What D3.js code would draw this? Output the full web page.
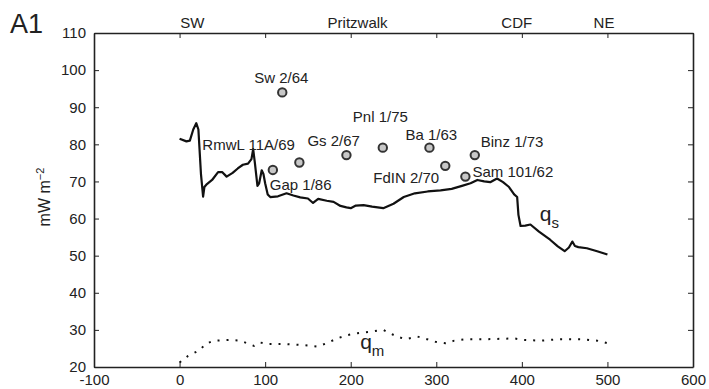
<!DOCTYPE html>
<html>
<head>
<meta charset="utf-8">
<script src="https://cdn.jsdelivr.net/npm/d3@7"></script>
<style>
  body { margin: 0; background: #fff; }
  svg text { font-family: "Liberation Sans", Arial, sans-serif; fill: #222; }
</style>
</head>
<body>
<svg width="709" height="389"></svg>
<script>
// surface heat flow q_s along the profile (distance km, mW m-2)
const qsDist = [0, 8, 12, 16, 19.5, 22, 25, 27.5, 29, 32, 38, 45, 50, 55, 62, 68, 74, 80, 84, 86, 88, 91, 93, 96, 98, 100, 103, 106, 115, 125, 133, 141, 150, 156, 162, 172, 180, 188, 195, 200, 206, 215, 225, 238, 250, 262, 275, 290, 305, 318, 330, 340, 348, 356, 363, 371, 378, 385, 391, 394.5, 396, 398.5, 404, 410, 420, 433, 442, 450, 455, 459, 462, 466, 476, 488, 500];
const qsValue = [81.5, 80.8, 81, 84, 85.7, 84, 72, 65.9, 68.5, 69.3, 70.4, 72.5, 72.5, 71.3, 72.3, 73.5, 74.5, 74.8, 76, 78.7, 75, 68.8, 69.5, 73, 72, 69.5, 66.5, 65.8, 66, 66.8, 66.2, 65.7, 65.4, 64.2, 65.3, 64.8, 64.5, 63.4, 63, 62.8, 63.5, 63.6, 63.2, 62.8, 64, 65.8, 66.8, 67.3, 67.6, 68, 68.8, 69.5, 70.4, 70, 69.8, 70.8, 69.8, 68.5, 66.5, 65.8, 61, 58, 58.1, 58.4, 56.5, 54.3, 52.5, 51.2, 52.2, 53.8, 52.6, 52.3, 52, 51.2, 50.3];

// mantle heat flow q_m
const qmDist = [0, 10, 24, 30, 40, 59, 71, 81, 87, 94, 102, 122, 145, 161, 172, 184, 196, 208, 223, 238, 246, 254, 264, 278, 289, 299, 311, 321, 336, 360, 391, 402, 422, 445, 469, 488, 500];
const qmValue = [21.2, 23, 24.6, 26.2, 27.1, 27.3, 27.1, 26.2, 25.7, 26.6, 26.2, 26.2, 25.9, 25.5, 26.4, 27.7, 28.6, 29.1, 29.5, 30, 29.1, 28.2, 27.5, 28.2, 27.5, 26.8, 26.4, 27.1, 27.5, 27.5, 27.7, 27.3, 27.1, 27.5, 27.5, 27.1, 26.4];

// borehole measurements
const wellNames = ["Sw 2/64", "RmwL 11A/69", "Gap 1/86", "Gs 2/67", "Pnl 1/75", "Ba 1/63", "FdIN 2/70", "Binz 1/73", "Sam 101/62"];
const wellDist = [120, 140, 109, 195, 237.5, 292, 310.5, 345, 334];
const wellValue = [94, 75.1, 73.1, 77.1, 79.1, 79.1, 74.2, 77.1, 71.3];

// place names on top axis
const placeNames = ["SW", "Pritzwalk", "CDF", "NE"];
const placeDist = [15, 208, 394, 496];

const xTicks = [-100, 0, 100, 200, 300, 400, 500, 600];
const yTicks = [20, 30, 40, 50, 60, 70, 80, 90, 100, 110];

const margin = { top: 33, right: 16, bottom: 22, left: 94 },
  width = 709 - margin.left - margin.right,
  height = 389 - margin.top - margin.bottom;

const svg = d3.select("svg")
  .append("g")
  .attr("transform", "translate(" + margin.left + "," + margin.top + ")");

const x = d3.scaleLinear().domain([-100, 600]).range([0, width]);
const y = d3.scaleLinear().domain([20, 110]).range([height, 0]);

// axes, ticks pointing inward like the matlab box
const xAxis = d3.axisBottom(x).tickValues(xTicks).tickSize(-5).tickPadding(7)
  .tickFormat(function (d) { return String(d); }).tickSizeOuter(0);
const xTop = d3.axisTop(x).tickValues(xTicks).tickSize(-5).tickFormat("").tickSizeOuter(0);
const yAxis = d3.axisLeft(y).tickValues(yTicks).tickSize(-5).tickPadding(8).tickSizeOuter(0);
const yRight = d3.axisRight(y).tickValues(yTicks).tickSize(-5).tickFormat("").tickSizeOuter(0);

svg.append("g").attr("class", "axis").attr("transform", "translate(0," + height + ")").call(xAxis);
svg.append("g").attr("class", "axis").call(xTop);
svg.append("g").attr("class", "axis").call(yAxis);
svg.append("g").attr("class", "axis").attr("transform", "translate(" + width + ",0)").call(yRight);

svg.selectAll(".axis .domain").attr("stroke", "#222").attr("stroke-width", 1.6);
svg.selectAll(".axis line").attr("stroke", "#222").attr("stroke-width", 1);
svg.selectAll(".axis text").style("font-size", "15px").style("fill", "#222")
  .style("font-family", "'Liberation Sans', Arial, sans-serif");

// place names
svg.selectAll(".place")
  .data(placeNames)
  .enter()
  .append("text")
  .attr("class", "place")
  .attr("x", function (d, i) { return x(placeDist[i]); })
  .attr("y", -5)
  .attr("text-anchor", "middle")
  .style("font-size", "15px")
  .text(function (d) { return d; });

const line = d3.line()
  .x(function (d) { return x(d[0]); })
  .y(function (d) { return y(d[1]); });

svg.append("path")
  .datum(d3.zip(qsDist, qsValue))
  .attr("fill", "none")
  .attr("stroke", "#111")
  .attr("stroke-width", 2.2)
  .attr("stroke-linejoin", "round")
  .attr("d", line);

svg.append("path")
  .datum(d3.zip(qmDist, qmValue))
  .attr("fill", "none")
  .attr("stroke", "#111")
  .attr("stroke-width", 2)
  .attr("stroke-dasharray", "2,7")
  .attr("d", line);

// label offsets (px) relative to each well marker
const labelDx = [-28, -97, -3, -39, -30, -24, -72, 6, 7];
const labelDy = [-9, -13, 20, -9, -26, -8, 17, -8, 0];

svg.selectAll(".well")
  .data(wellNames)
  .enter()
  .append("circle")
  .attr("class", "well")
  .attr("cx", function (d, i) { return x(wellDist[i]); })
  .attr("cy", function (d, i) { return y(wellValue[i]); })
  .attr("r", 4.2)
  .attr("fill", "#c8c8c8")
  .attr("stroke", "#333")
  .attr("stroke-width", 2);

svg.selectAll(".wellLabel")
  .data(wellNames)
  .enter()
  .append("text")
  .attr("class", "wellLabel")
  .attr("x", function (d, i) { return x(wellDist[i]) + labelDx[i]; })
  .attr("y", function (d, i) { return y(wellValue[i]) + labelDy[i]; })
  .style("font-size", "15px")
  .text(function (d) { return d; });

// curve names
const qs = svg.append("text").attr("x", x(421)).attr("y", y(59.3)).style("font-size", "21px");
qs.append("tspan").text("q");
qs.append("tspan").attr("dy", 7).style("font-size", "15px").text("s");

const qm = svg.append("text").attr("x", x(211)).attr("y", y(24.8)).style("font-size", "21px");
qm.append("tspan").text("q");
qm.append("tspan").attr("dy", 7).style("font-size", "15px").text("m");

// y label
const yl = svg.append("text")
  .attr("transform", "translate(" + (-44) + "," + (height / 2 - 3) + ") rotate(-90)")
  .attr("text-anchor", "middle")
  .style("font-size", "16px");
yl.append("tspan").text("mW m");
yl.append("tspan").attr("dy", -6).style("font-size", "11px").text("\u22122");

// panel label
d3.select("svg").append("text")
  .attr("x", 10)
  .attr("y", 33)
  .style("font-size", "27px")
  .text("A1");
</script>
</body>
</html>
